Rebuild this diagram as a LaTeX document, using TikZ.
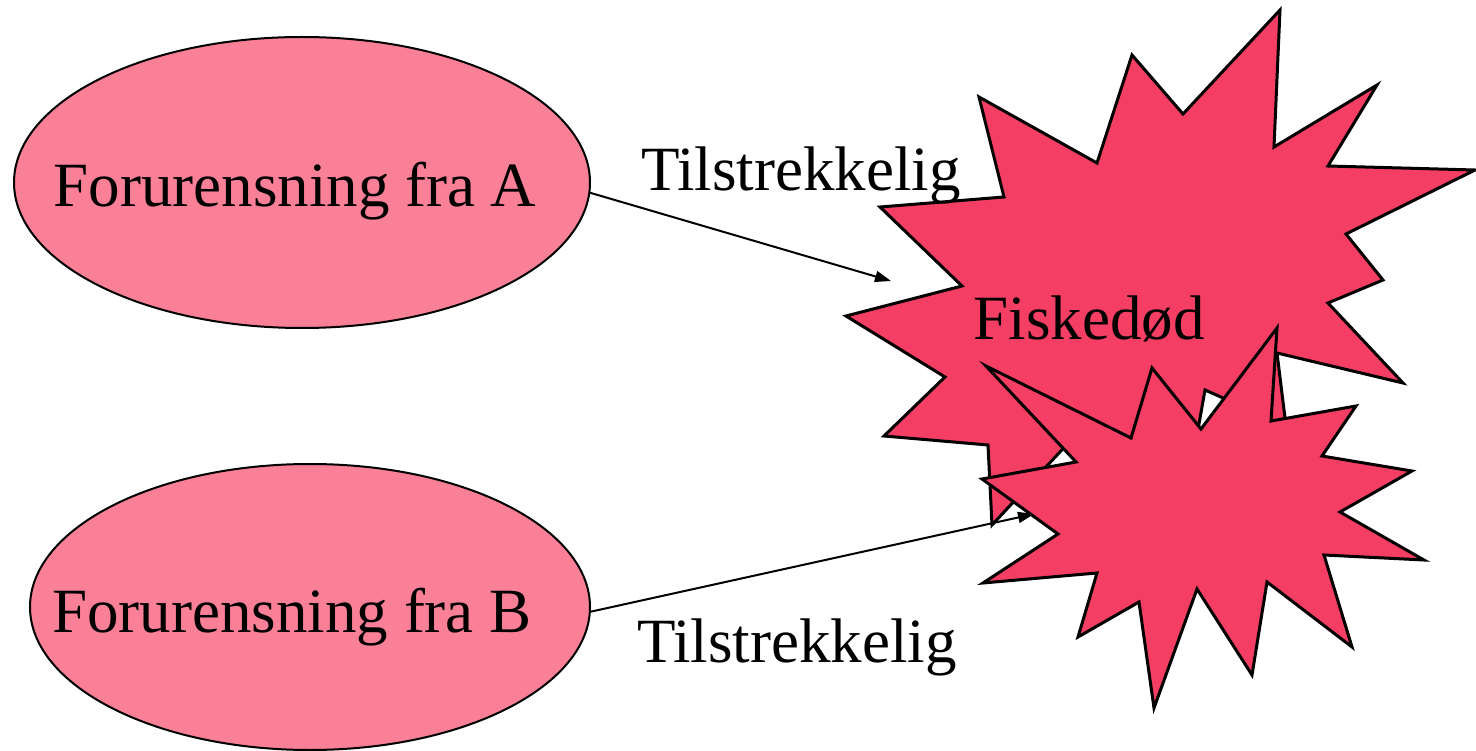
\documentclass[tikz,border=0pt]{standalone}
\usepackage{fontspec}
\setmainfont{Liberation Serif}
\usetikzlibrary{shapes.geometric,arrows.meta}
\definecolor{ellfill}{RGB}{249,128,150}
\definecolor{starfill}{RGB}{245,62,99}
\tikzset{
  ellnode/.style={ellipse,draw=black,line width=2pt,fill=ellfill,inner sep=0pt,outer sep=0pt},
  starshape/.style={draw=black,line width=3pt,fill=starfill,line join=miter,miter limit=20},
  lbl/.style={inner sep=0pt,font=\fontsize{63}{75}\selectfont,anchor=base},
  conn/.style={draw=black,line width=2pt,-{Triangle[length=16pt,width=11pt]}}
}
\begin{document}
\begin{tikzpicture}[x=1pt,y=-1pt]
\useasboundingbox (0,0) rectangle (1476,751);
% ellipses
\node[ellnode,minimum width=576pt,minimum height=291pt] (ellA) at (302,182.5) {};
\node[ellnode,minimum width=560pt,minimum height=286pt] (ellB) at (310,607) {};
\node[lbl] (labA) at (295,207) {Forurensning fra A};
\node[lbl] (labB) at (292,632) {Forurensning fra B};
% big star
\path[starshape] (1280,10) -- (1274,147) -- (1377,85) -- (1328,166) -- (1475,170) -- (1346,234)
  -- (1383,280) -- (1328,303) -- (1403,383) -- (1277,353) -- (1286,426) -- (1205,390)
  -- (1182,520) -- (1085,425) -- (992,525) -- (988,445) -- (884,436) -- (945,377)
  -- (846,316) -- (962,286) -- (880,207) -- (1004,197) -- (979,97) -- (1097,163)
  -- (1132,55) -- (1183,114) -- cycle;
\node[lbl] (fisk) at (1089,340) {Fiskedød};
% connectors
\coordinate (aEnd) at (891,281);
\coordinate (bEnd) at (1034,514);
\draw[conn] (ellA.-2) -- (aEnd);
\draw[conn] (ellB.-1.5) -- (bEnd);
\node[lbl] (tilA) at (801,191) {Tilstrekkelig};
\node[lbl] (tilB) at (797,662) {Tilstrekkelig};
% small star
\path[starshape] (1277,328) -- (1271,421) -- (1356,406) -- (1322,456) -- (1412,471) -- (1340,512)
  -- (1424,560) -- (1324,555) -- (1352,647) -- (1267,582) -- (1252,675) -- (1197,589)
  -- (1154,708) -- (1139,602) -- (1078,637) -- (1097,573) -- (983,583) -- (1058,534)
  -- (982,479) -- (1076,462) -- (986,366) -- (1131,438) -- (1152,368) -- (1201,429) -- cycle;
\end{tikzpicture}
\end{document}
